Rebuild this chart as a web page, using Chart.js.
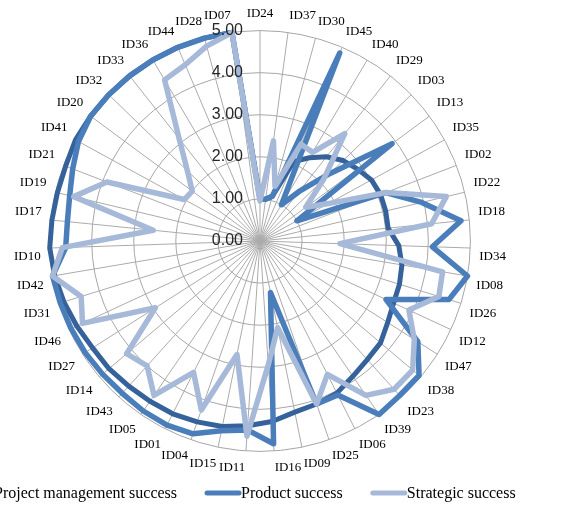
<!DOCTYPE html>
<html>
<head>
<meta charset="utf-8">
<script src="https://cdn.jsdelivr.net/npm/chart.js@4.4.1/dist/chart.umd.min.js"></script>
<style>
  html, body { margin: 0; padding: 0; background: #fff; }
  #wrap { width: 580px; height: 505px; }
</style>
</head>
<body>
<div id="wrap"><canvas id="radarChart" width="580" height="505"></canvas></div>
<script>
// axes, clockwise from the top
const projectIds = ['ID24', 'ID37', 'ID30', 'ID45', 'ID40', 'ID29', 'ID03', 'ID13', 'ID35', 'ID02',
  'ID22', 'ID18', 'ID34', 'ID08', 'ID26', 'ID12', 'ID47', 'ID38', 'ID23', 'ID39',
  'ID06', 'ID25', 'ID09', 'ID16', 'ID11', 'ID15', 'ID04', 'ID01', 'ID05', 'ID43',
  'ID14', 'ID27', 'ID46', 'ID31', 'ID42', 'ID10', 'ID17', 'ID19', 'ID21', 'ID41',
  'ID20', 'ID32', 'ID33', 'ID36', 'ID44', 'ID28', 'ID07'];

const pmSuccess = [1.0, 1.0, 1.1, 2.05, 2.3, 2.55, 2.75, 2.88, 3.02, 3.07,
  3.07, 3.06, 3.3, 3.42, 3.47, 3.5, 3.6, 3.75, 3.8, 3.9,
  4.05, 4.1, 4.15, 4.3, 4.4, 4.5, 4.55, 4.6, 4.62, 4.65,
  4.7, 4.72, 4.8, 4.88, 4.95, 5.0, 4.97, 4.95, 4.95, 5.0,
  5.0, 5.0, 5.0, 5.0, 5.0, 5.0, 5.0];

const productSuccess = [1.0, 1.0, 1.1, 4.85, 1.0, 1.5, 2.3, 3.9, 1.0, 3.2,
  3.95, 4.8, 4.1, 5.0, 4.7, 3.3, 4.45, 4.95, 4.95, 5.0,
  4.1, 4.1, 1.25, 4.83, 4.5, 4.6, 4.85, 4.9, 4.9, 4.88,
  4.9, 4.93, 4.95, 4.97, 5.0, 4.62, 4.6, 4.65, 4.77, 4.92,
  5.0, 5.0, 5.0, 5.0, 5.0, 5.0, 5.0];

const strategicSuccess = [0.95, 2.4, 1.35, 2.5, 2.45, 3.25, 2.1, 1.35, 1.85, 3.2,
  4.55, 4.1, 1.9, 4.4, 4.45, 3.9, 4.35, 4.75, 4.75, 4.45,
  3.55, 4.1, 2.1, 2.95, 4.65, 2.75, 4.25, 3.5, 4.45, 4.0,
  4.15, 2.95, 4.65, 4.45, 5.0, 4.7, 2.55, 4.55, 3.9, 2.05,
  2.0, 2.4, 3.1, 4.45, 4.55, 4.8, 5.0];

const tickValues = [0, 1, 2, 3, 4, 5];

// value labels sit left of the vertical axis, like the original
const tickLabelPlugin = {
  id: 'tickLabels',
  afterDatasetsDraw(chart) {
    const r = chart.scales.r;
    const ctx = chart.ctx;
    ctx.save();
    ctx.font = '16px "Liberation Sans", Arial, sans-serif';
    ctx.fillStyle = '#262626';
    ctx.textAlign = 'right';
    ctx.textBaseline = 'middle';
    tickValues.forEach(function(v) {
      ctx.fillText(v.toFixed(2), r.xCenter - 17, r.yCenter - r.getDistanceFromCenterForValue(v));
    });
    ctx.restore();
  }
};

// legend is wider than the canvas in the original, so draw it by hand
const legendPlugin = {
  id: 'wideLegend',
  afterDraw(chart) {
    const ctx = chart.ctx;
    const y = 493;
    let x = -42;
    ctx.save();
    ctx.font = '16px "Liberation Serif", "Times New Roman", serif';
    ctx.textBaseline = 'middle';
    ctx.textAlign = 'left';
    chart.data.datasets.forEach(function(ds) {
      ctx.strokeStyle = ds.borderColor;
      ctx.lineWidth = 5;
      ctx.lineCap = 'round';
      ctx.beginPath();
      ctx.moveTo(x + 2, y);
      ctx.lineTo(x + 34, y);
      ctx.stroke();
      ctx.fillStyle = '#000';
      ctx.fillText(ds.label, x + 36, y + 1);
      x += 36 + ctx.measureText(ds.label).width + 28;
    });
    ctx.restore();
  }
};

const ctx = document.getElementById('radarChart').getContext('2d');

const radarChart = new Chart(ctx, {
  type: 'radar',
  data: {
    labels: projectIds,
    datasets: [
      {
        label: 'Project management success',
        data: pmSuccess,
        borderColor: '#35629A',
        borderWidth: 5,
        order: 2
      },
      {
        label: 'Product success',
        data: productSuccess,
        borderColor: '#4A7EBB',
        borderWidth: 5.5,
        order: 1
      },
      {
        label: 'Strategic success',
        data: strategicSuccess,
        borderColor: '#A7B9D8',
        borderWidth: 5.5,
        order: 0
      }
    ]
  },
  options: {
    responsive: false,
    animation: false,
    devicePixelRatio: 1,
    layout: { padding: { top: 6, bottom: 28, left: 12, right: 72 } },
    elements: {
      point: { radius: 0, hoverRadius: 0 },
      line: { fill: false, tension: 0, borderJoinStyle: 'round', borderCapStyle: 'round' }
    },
    plugins: {
      legend: { display: false },
      tooltip: { enabled: false }
    },
    scales: {
      r: {
        min: 0,
        max: 5,
        ticks: { display: false, stepSize: 1 },
        grid: { circular: true, color: '#A6A6A6', lineWidth: 1 },
        angleLines: { color: '#ABABAB', lineWidth: 1 },
        pointLabels: {
          color: '#000',
          padding: 9,
          font: { family: '"Liberation Serif", "Times New Roman", serif', size: 13 }
        }
      }
    }
  },
  plugins: [tickLabelPlugin, legendPlugin]
});
</script>
</body>
</html>
